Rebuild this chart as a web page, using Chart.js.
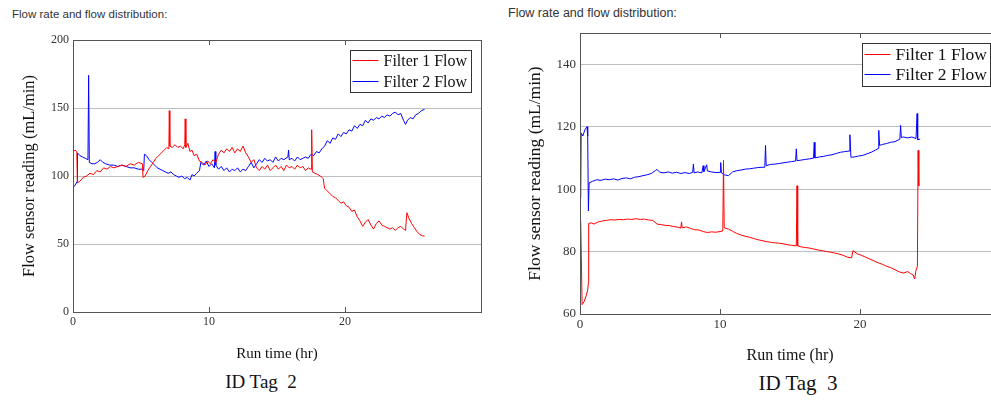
<!DOCTYPE html>
<html>
<head>
<meta charset="utf-8">
<title>Flow rate and flow distribution</title>
<script src="https://cdn.jsdelivr.net/npm/chart.js@4.4.0/dist/chart.umd.min.js"></script>
<style>
  html, body { margin: 0; padding: 0; background: #fff; }
  body { width: 991px; height: 404px; overflow: hidden; position: relative; }
  .heading { position: absolute; font-family: Arial, "Liberation Sans", sans-serif; color: #333; white-space: nowrap; line-height: 1; }
  .caption { position: absolute; font-family: "Liberation Serif", "Times New Roman", serif; color: #111; white-space: pre; line-height: 1; transform: translateX(-50%); }
  canvas { position: absolute; top: 0; }
</style>
</head>
<body>
<div class="heading" style="left:12px; top:9px; font-size:11.5px">Flow rate and flow distribution:</div>
<div class="heading" style="left:508px; top:7px; font-size:12.5px">Flow rate and flow distribution:</div>

<canvas id="tag2Chart" width="500" height="370" style="left:0"></canvas>
<canvas id="tag3Chart" width="520" height="370" style="left:500px"></canvas>

<div class="caption" style="left:261px; top:372px; font-size:19px">ID Tag  2</div>
<div class="caption" style="left:798px; top:373px; font-size:21px">ID Tag  3</div>

<script>
"use strict";

// ID Tag 2 run
const tag2F1Hours = [0, 0.02, 0.15, 0.28, 0.32, 0.5, 0.75, 1.0, 1.25, 1.5, 1.75, 2.0, 2.25, 2.5, 2.75, 3.0, 3.3, 3.6, 3.9, 4.2,
    4.5, 4.8, 5.1, 5.15, 5.3, 5.5, 5.7, 5.9, 6.1, 6.3, 6.5, 6.7, 6.9, 7.05, 7.08, 7.12, 7.3, 7.5, 7.7, 7.9,
    8.1, 8.22, 8.25, 8.3, 8.45, 8.6, 8.75, 8.9, 9.1, 9.3, 9.5, 9.7, 9.9, 10.1, 10.3, 10.5, 10.7, 10.9, 11.1, 11.3,
    11.5, 11.7, 11.9, 12.1, 12.3, 12.5, 12.7, 12.9, 13.1, 13.3, 13.5, 13.7, 13.9, 14.1, 14.3, 14.5, 14.7, 14.9, 15.1, 15.3,
    15.5, 15.7, 15.9, 16.1, 16.3, 16.5, 16.7, 16.9, 17.1, 17.3, 17.5, 17.55, 17.6, 17.8, 18.0, 18.2, 18.4, 18.5, 18.7, 18.9,
    19.1, 19.3, 19.5, 19.7, 19.9, 20.1, 20.3, 20.5, 20.7, 20.9, 21.1, 21.3, 21.5, 21.7, 21.9, 22.1, 22.3, 22.5, 22.7, 22.9,
    23.1, 23.3, 23.5, 23.7, 23.9, 24.1, 24.3, 24.45, 24.55, 24.7, 24.9, 25.1, 25.3, 25.5, 25.7, 25.85];
const tag2F1Flow = [150, 118, 119, 118, 95, 96, 99, 100, 102, 101, 104, 103, 106, 105, 107, 106, 107, 108, 107, 109,
    108, 110, 109, 99, 100, 104, 107, 110, 113, 115, 117, 119, 121, 120, 148, 122, 121, 123, 121, 122,
    120, 123, 142, 121, 124, 118, 119, 115, 116, 111, 110, 108, 111, 109, 112, 110, 116, 119, 117, 120,
    118, 121, 117, 120, 118, 122, 117, 114, 110, 112, 106, 104, 107, 105, 108, 104, 106, 108, 105, 107,
    104, 108, 106, 107, 105, 108, 106, 107, 104, 106, 105, 134, 103, 102, 101, 100, 98, 91, 89, 87,
    85, 84, 82, 80, 81, 78, 77, 74, 75, 70, 67, 63, 66, 68, 64, 61, 65, 67, 64, 63,
    62, 61, 62, 60, 62, 63, 61, 60, 73, 69, 65, 62, 59, 57, 56, 56];

const tag2F2Hours = [0, 0.02, 0.15, 0.3, 0.33, 0.5, 0.7, 0.9, 1.1, 1.15, 1.2, 1.4, 1.6, 1.8, 2.0, 2.2, 2.4, 2.7, 3.0, 3.3,
    3.6, 3.9, 4.2, 4.5, 4.8, 5.1, 5.2, 5.25, 5.4, 5.6, 5.8, 6.0, 6.2, 6.4, 6.6, 6.8, 7.0, 7.2, 7.4, 7.6,
    7.8, 8.0, 8.2, 8.4, 8.6, 8.75, 8.9, 9.1, 9.3, 9.4, 9.6, 9.8, 10.0, 10.2, 10.4, 10.45, 10.5, 10.7, 10.9, 11.1,
    11.3, 11.5, 11.7, 11.9, 12.1, 12.3, 12.5, 12.7, 12.9, 13.1, 13.3, 13.5, 13.7, 13.9, 14.1, 14.3, 14.5, 14.7, 14.9, 15.1,
    15.3, 15.5, 15.8, 15.85, 15.9, 16.1, 16.3, 16.5, 16.7, 16.9, 17.1, 17.3, 17.5, 17.7, 17.9, 18.1, 18.3, 18.5, 18.7, 18.9,
    19.1, 19.3, 19.5, 19.7, 19.9, 20.1, 20.3, 20.5, 20.7, 20.9, 21.1, 21.3, 21.5, 21.7, 21.9, 22.1, 22.3, 22.5, 22.7, 22.9,
    23.1, 23.3, 23.5, 23.7, 23.9, 24.1, 24.3, 24.45, 24.6, 24.8, 25.0, 25.2, 25.4, 25.6, 25.85];
const tag2F2Flow = [22, 92, 93, 96, 117, 115, 114, 113, 112, 174, 110, 109, 109, 110, 112, 110, 109, 108, 108, 107,
    108, 107, 106, 106, 105, 105, 104, 116, 115, 112, 110, 108, 106, 105, 104, 103, 102, 103, 101, 100,
    99, 100, 98, 99, 97, 101, 100, 102, 104, 110, 108, 111, 107, 109, 106, 118, 108, 105, 107, 104,
    106, 103, 105, 104, 106, 103, 105, 104, 107, 110, 106, 109, 112, 110, 113, 111, 112, 110, 114, 111,
    113, 112, 114, 119, 112, 113, 111, 114, 112, 113, 114, 113, 116, 115, 118, 117, 120, 122, 126, 124,
    128, 127, 131, 129, 132, 131, 134, 133, 137, 135, 138, 137, 141, 139, 142, 141, 143, 142, 144, 143,
    145, 144, 146, 147, 145, 146, 141, 138, 141, 143, 142, 145, 146, 148, 149];

// ID Tag 3 run
const tag3F1Hours = [0.05, 0.1, 0.15, 0.3, 0.45, 0.55, 0.6, 0.62, 0.8, 1.0, 1.3, 1.6, 1.9, 2.2, 2.5, 2.8, 3.1, 3.4, 3.7, 4.0,
    4.3, 4.6, 4.9, 5.2, 5.5, 5.8, 6.1, 6.4, 6.7, 7.0, 7.2, 7.25, 7.3, 7.6, 7.9, 8.2, 8.5, 8.8, 9.1, 9.4,
    9.7, 10.0, 10.2, 10.25, 10.3, 10.6, 10.9, 11.2, 11.5, 11.8, 12.1, 12.4, 12.7, 13.0, 13.3, 13.6, 13.9, 14.2, 14.5, 14.8,
    15.1, 15.45, 15.5, 15.55, 15.8, 16.1, 16.4, 16.7, 17.0, 17.3, 17.6, 17.9, 18.2, 18.5, 18.8, 19.1, 19.4, 19.5, 19.8, 20.1,
    20.4, 20.7, 21.0, 21.3, 21.6, 21.9, 22.2, 22.5, 22.8, 23.1, 23.4, 23.6, 23.8, 23.9, 24.0, 24.1, 24.15, 24.2];
const tag3F1Flow = [90, 77, 63, 64, 66, 67.7, 70, 89, 89.2, 88.8, 89.5, 89.8, 90, 90.2, 90.1, 90.3, 90.2, 90.4, 90.3, 90.5,
    90.3, 90.4, 90.1, 90, 88.8, 88.6, 88.4, 88.3, 88, 87.8, 87.5, 89.5, 87.6, 87.9, 87.4, 87, 86.9, 86.4, 86.1, 86.3,
    86.2, 86.4, 86.6, 109.2, 87.6, 87.2, 86.5, 85.8, 85.3, 84.9, 84.6, 84.2, 83.8, 83.5, 83.2, 83, 82.8, 82.7, 82.5, 82.2,
    82, 81.8, 101.1, 81.8, 81.5, 81.3, 81.1, 80.8, 80.5, 80.3, 80, 79.8, 79.5, 79.2, 78.8, 78.2, 78, 80.3, 79.3, 78.8,
    78.2, 77.6, 77, 76.4, 75.9, 75.3, 74.8, 74.2, 73.5, 73.1, 73.6, 73, 72.5, 71.2, 74, 75.3, 112.4, 101];

const tag3F2Hours = [0.05, 0.08, 0.2, 0.35, 0.5, 0.55, 0.6, 0.65, 0.9, 1.2, 1.5, 1.8, 2.1, 2.4, 2.7, 3.0, 3.3, 3.6, 3.9, 4.2,
    4.5, 4.8, 5.1, 5.4, 5.5, 5.7, 6.0, 6.3, 6.6, 6.9, 7.2, 7.5, 7.8, 8.05, 8.1, 8.15, 8.4, 8.7, 8.8, 8.85,
    9.05, 9.1, 9.4, 9.7, 10.0, 10.05, 10.1, 10.3, 10.6, 10.9, 11.2, 11.5, 11.8, 12.1, 12.4, 12.7, 13.0, 13.2, 13.25, 13.3,
    13.6, 13.9, 14.2, 14.5, 14.8, 15.1, 15.4, 15.45, 15.5, 15.8, 16.1, 16.4, 16.68, 16.73, 16.78, 17.1, 17.4, 17.7, 18.0, 18.3,
    18.6, 18.9, 19.23, 19.28, 19.35, 19.6, 19.9, 20.2, 20.5, 20.8, 21.1, 21.3, 21.34, 21.4, 21.6, 21.9, 22.2, 22.5, 22.85, 22.9,
    22.95, 23.1, 23.4, 23.7, 24.0, 24.08, 24.12, 24.3];
const tag3F2Flow = [97, 118, 117, 119, 120, 117, 93, 102, 102.5, 103, 102.8, 103.2, 103, 103.3, 102.9, 103.4, 103.6, 103.3, 103.8, 104,
    104.3, 104.6, 105, 106, 106.3, 105.4, 105.2, 105.5, 105.1, 105.4, 105, 105.3, 105, 105.4, 108, 105.2, 105.5, 105.2, 107.5, 105.6,
    107.8, 105.8, 105.5, 105.3, 105.4, 108.5, 105.2, 104.6, 104.3, 105.5, 105.9, 106.1, 106.4, 106.5, 106.7, 106.9, 107, 107, 114, 107.5,
    107.9, 108, 108.2, 108.4, 108.6, 108.8, 109, 112.9, 109.1, 109.3, 109.5, 109.7, 109.9, 115, 110, 110.3, 110.5, 110.8, 111, 111.4,
    111.8, 112, 112.2, 117.4, 110.2, 110.3, 110.6, 110.8, 111.3, 111.8, 112.5, 113, 118.8, 114, 114.3, 114.6, 115, 115.2, 116, 120.4,
    116.5, 116.7, 116.4, 116.7, 116.2, 124.2, 115.8, 116];

const SERIF = '"Liberation Serif", "Times New Roman", serif';

function pairs(hours, flow) {
    return hours.map((h, i) => ({ x: h, y: flow[i] }));
}

// box round the plot, short inside ticks on top/bottom edge, and the legend
const framePlugin = {
    id: 'frame',
    afterDraw(chart, args, opts) {
        const { ctx, chartArea: a } = chart;
        const xScale = chart.scales.x;
        ctx.save();
        ctx.lineWidth = 1;
        ctx.strokeStyle = '#555';
        ctx.strokeRect(Math.round(a.left) + 0.5, Math.round(a.top) + 0.5,
            Math.round(a.right - a.left), Math.round(a.bottom - a.top));

        xScale.ticks.forEach(t => {
            if (t.value <= xScale.min || t.value >= xScale.max) return;
            const px = Math.round(xScale.getPixelForValue(t.value)) + 0.5;
            ctx.beginPath();
            ctx.moveTo(px, a.top);
            ctx.lineTo(px, a.top + 5);
            ctx.moveTo(px, a.bottom);
            ctx.lineTo(px, a.bottom - 5);
            ctx.stroke();
        });

        ctx.font = opts.legendSize + 'px ' + SERIF;
        const sets = chart.data.datasets;
        const textW = Math.max(...sets.map(d => ctx.measureText(d.label).width));
        const boxW = Math.round(2 + 26 + 5 + textW + 4);
        const boxH = opts.legendHeight;
        const bx = Math.round(a.right - 10 - boxW) + 0.5;
        const by = Math.round(a.top + 10) + 0.5;
        ctx.fillStyle = '#fff';
        ctx.fillRect(bx, by, boxW, boxH);
        ctx.strokeStyle = '#333';
        ctx.strokeRect(bx, by, boxW, boxH);
        ctx.textBaseline = 'middle';
        sets.forEach((d, i) => {
            const cy = Math.round(by + opts.legendFirstRow + i * opts.legendRowGap) + 0.5;
            ctx.strokeStyle = d.borderColor;
            ctx.beginPath();
            ctx.moveTo(bx + 2, cy);
            ctx.lineTo(bx + 28, cy);
            ctx.stroke();
            ctx.fillStyle = '#111';
            ctx.fillText(d.label, bx + 33, cy + 1);
        });
        ctx.restore();
    }
};

function makeFlowChart(canvasId, s) {
    const ctx = document.getElementById(canvasId).getContext('2d');
    return new Chart(ctx, {
        type: 'line',
        data: {
            datasets: [
                {
                    label: 'Filter 1 Flow',
                    data: pairs(s.f1Hours, s.f1Flow),
                    borderColor: '#ff0000',
                    borderWidth: 1,
                    pointRadius: 0,
                    tension: 0
                },
                {
                    label: 'Filter 2 Flow',
                    data: pairs(s.f2Hours, s.f2Flow),
                    borderColor: '#0000ff',
                    borderWidth: 1,
                    pointRadius: 0,
                    tension: 0
                }
            ]
        },
        options: {
            responsive: false,
            animation: false,
            devicePixelRatio: 1,
            layout: { padding: { top: s.padTop, right: s.padRight, left: 0, bottom: 0 } },
            plugins: {
                legend: { display: false },
                tooltip: { enabled: false },
                frame: {
                    legendSize: s.legendSize,
                    legendHeight: s.legendHeight,
                    legendFirstRow: s.legendFirstRow,
                    legendRowGap: s.legendRowGap
                }
            },
            scales: {
                x: {
                    type: 'linear',
                    min: 0,
                    max: 30,
                    afterBuildTicks: scale => { scale.ticks = scale.ticks.filter(t => t.value < 30); },
                    afterFit: scale => { scale.height = s.xHeight; },
                    ticks: { stepSize: 10, padding: 3, maxRotation: 0, color: '#333', font: { family: SERIF, size: s.tickSize } },
                    grid: { display: false, drawTicks: false },
                    border: { display: false },
                    title: { display: true, text: 'Run time (hr)', color: '#111', padding: { top: 0, bottom: s.xTitleLift }, font: { family: SERIF, size: s.axisTitleSize } }
                },
                y: {
                    min: s.yMin,
                    max: s.yMax,
                    afterBuildTicks: scale => { scale.ticks = scale.ticks.filter(t => t.value % s.yStep === 0); },
                    afterFit: scale => { scale.width = s.yWidth; },
                    ticks: { stepSize: s.yStep, padding: 4, color: '#333', font: { family: SERIF, size: s.tickSize } },
                    grid: { color: '#bdbdbd', drawTicks: false },
                    border: { display: false },
                    title: { display: true, text: 'Flow sensor reading (mL/min)', color: '#111', padding: { top: s.yTitleInset, bottom: 0 }, font: { family: SERIF, size: s.yTitleSize } }
                }
            }
        },
        plugins: [framePlugin]
    });
}

makeFlowChart('tag2Chart', {
    f1Hours: tag2F1Hours, f1Flow: tag2F1Flow,
    f2Hours: tag2F2Hours, f2Flow: tag2F2Flow,
    yMin: 0, yMax: 200, yStep: 50,
    padTop: 40, padRight: 19, yWidth: 73, xHeight: 58,
    tickSize: 12, axisTitleSize: 15, yTitleSize: 16.5, xTitleLift: 7, yTitleInset: 20,
    legendSize: 16, legendHeight: 42, legendFirstRow: 9.5, legendRowGap: 20.5
});

makeFlowChart('tag3Chart', {
    f1Hours: tag3F1Hours, f1Flow: tag3F1Flow,
    f2Hours: tag3F2Hours, f2Flow: tag3F2Flow,
    yMin: 60, yMax: 150, yStep: 20,
    padTop: 33, padRight: 20, yWidth: 80, xHeight: 56,
    tickSize: 13, axisTitleSize: 16, yTitleSize: 17.5, xTitleLift: 5, yTitleInset: 25,
    legendSize: 17.5, legendHeight: 43, legendFirstRow: 10.5, legendRowGap: 20
});
</script>
</body>
</html>
